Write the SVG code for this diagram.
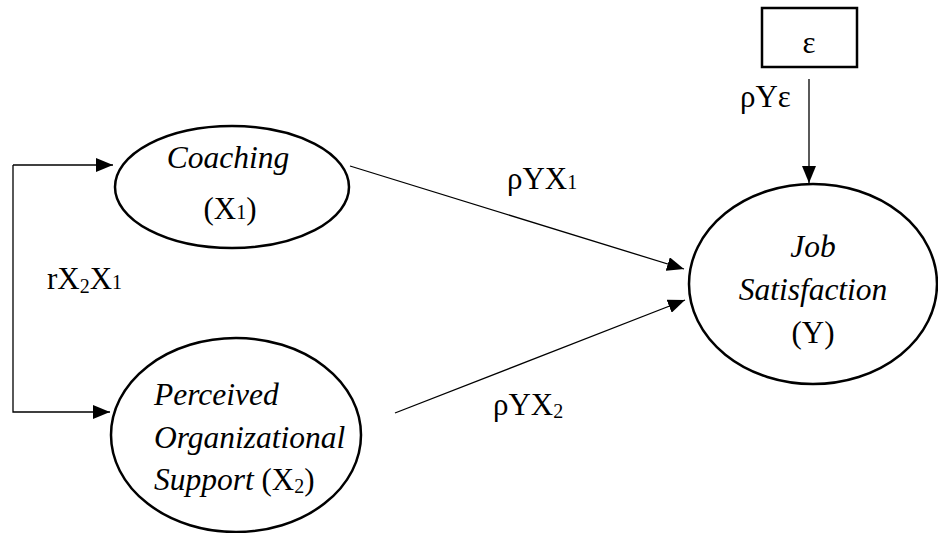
<svg xmlns="http://www.w3.org/2000/svg" width="938" height="533" viewBox="0 0 938 533">
<style>
  text { font-family: "Liberation Serif", "Times New Roman", serif; font-size: 31px; fill: #000; }
  .it { font-style: italic; font-size: 31.5px; }
  .sub { font-size: 20px; }
  .node { fill: #fff; stroke: #000; stroke-width: 2.5; }
  .conn { fill: none; stroke: #000; stroke-width: 1.3; }
</style>
<defs>
  <marker id="arr" viewBox="0 0 17 14" refX="17" refY="7" markerWidth="17" markerHeight="14" markerUnits="userSpaceOnUse" orient="auto">
    <path d="M0,0 L17,7 L0,14 z" fill="#000"/>
  </marker>
</defs>
<rect width="938" height="533" fill="#fff"/>

<g id="connectors">
  <polyline class="conn" points="13,165 13,412 110,412" marker-end="url(#arr)"/>
  <path class="conn" d="M13,165 H113" marker-end="url(#arr)"/>
  <line class="conn" x1="350" y1="166" x2="684" y2="269" marker-end="url(#arr)"/>
  <line class="conn" x1="395" y1="413" x2="685" y2="300" marker-end="url(#arr)"/>
  <line class="conn" x1="809" y1="79" x2="809" y2="183" marker-end="url(#arr)"/>
  <text x="47" y="289">rX<tspan class="sub" dy="4">2</tspan><tspan dy="-4">X</tspan><tspan class="sub">1</tspan></text>
  <text x="507" y="189">ρYX<tspan class="sub">1</tspan></text>
  <text x="493" y="415">ρYX<tspan class="sub" dy="3">2</tspan></text>
  <text x="740" y="107">ρYε</text>
</g>

<g id="coaching">
  <ellipse class="node" cx="232" cy="187" rx="117" ry="61"/>
  <text class="it" x="228" y="168" text-anchor="middle">Coaching</text>
  <text x="230" y="219" text-anchor="middle">(X<tspan class="sub">1</tspan>)</text>
</g>

<g id="pos">
  <ellipse class="node" cx="236" cy="435" rx="125" ry="97"/>
  <text class="it" x="154" y="405">Perceived</text>
  <text class="it" x="154" y="448">Organizational</text>
  <text x="154" y="490"><tspan class="it">Support</tspan> (X<tspan class="sub" dy="3">2</tspan><tspan dy="-3">)</tspan></text>
</g>

<g id="job">
  <ellipse class="node" cx="813" cy="284" rx="124" ry="100"/>
  <text class="it" x="813" y="257" text-anchor="middle">Job</text>
  <text class="it" x="813" y="300" text-anchor="middle">Satisfaction</text>
  <text x="813" y="343" text-anchor="middle">(Y)</text>
</g>

<g id="epsilon">
  <rect class="node" x="762" y="8" width="95" height="59"/>
  <text x="809" y="53" text-anchor="middle">ε</text>
</g>
</svg>
